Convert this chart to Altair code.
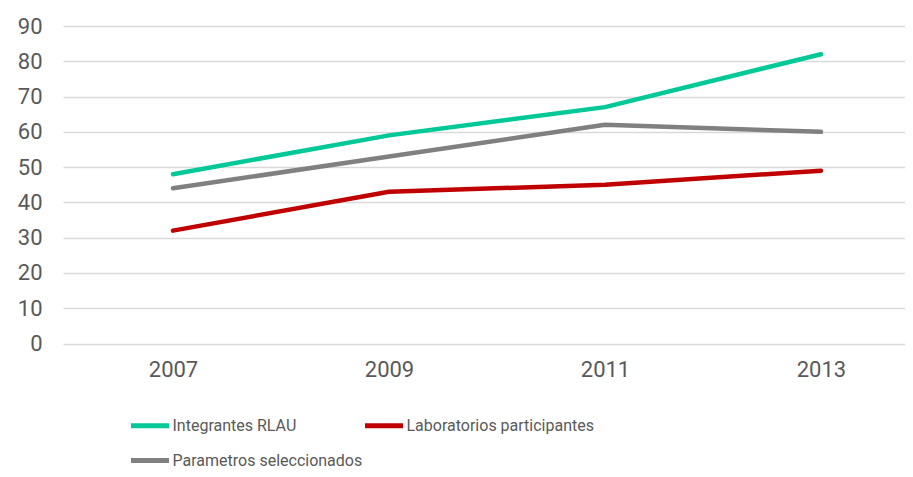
import altair as alt
import pandas as pd

years = ["2007", "2009", "2011", "2013"]
series_names = ["Integrantes RLAU", "Laboratorios participantes", "Parametros seleccionados"]
integrantes = [48, 59, 67, 82]
laboratorios = [32, 43, 45, 49]
parametros = [44, 53, 62, 60]
colors = ["#00c896", "#c00000", "#808080"]
y_ticks = [0, 10, 20, 30, 40, 50, 60, 70, 80, 90]

rows = []
for name, vals in zip(series_names, [integrantes, laboratorios, parametros]):
    for yr, v in zip(years, vals):
        rows.append({"Año": yr, "Serie": name, "Valor": v})
df = pd.DataFrame(rows)

label_color = "#595959"

chart = alt.Chart(df).mark_line(
    strokeWidth=4.5, strokeCap="round", strokeJoin="round"
).encode(
    x=alt.X(
        "Año:O",
        sort=years,
        scale=alt.Scale(type="point", padding=0.4491, align=0.567),
        axis=alt.Axis(
            title=None, labelAngle=0, labelFontSize=22, labelColor=label_color,
            labelFont="Roboto", ticks=False, domain=False, labelPadding=16, grid=False,
        ),
    ),
    y=alt.Y(
        "Valor:Q",
        scale=alt.Scale(domain=[0, 90], nice=False),
        axis=alt.Axis(
            title=None, values=y_ticks, labelFontSize=22, labelColor=label_color,
            labelFont="Roboto", ticks=False, domain=False, labelPadding=21,
            gridColor="#d9d9d9", gridWidth=1.5,
        ),
    ),
    color=alt.Color(
        "Serie:N",
        sort=series_names,
        scale=alt.Scale(domain=series_names, range=colors),
        legend=alt.Legend(
            title=None, orient="none", legendX=65.5, legendY=378,
            direction="horizontal", columns=2, symbolType="stroke",
            symbolSize=1444, symbolStrokeWidth=5, labelFontSize=16,
            labelFont="Roboto", labelColor=label_color, labelOffset=1,
            labelLimit=400, columnPadding=-12, rowPadding=3, padding=0,
        ),
    ),
).properties(
    width=842,
    height=317.5,
    padding={"left": 55, "top": 18, "right": 0, "bottom": 125.5},
    autosize=alt.AutoSizeParams(type="none"),
).configure_view(stroke=None)

chart.save("out.html", embed_options={"renderer": "svg", "actions": False})
